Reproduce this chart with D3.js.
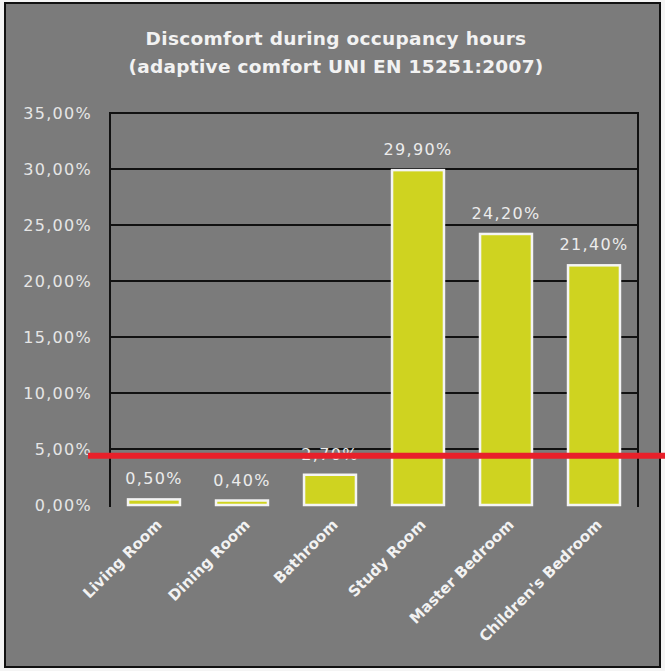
<!DOCTYPE html>
<html>
<head>
<meta charset="utf-8">
<script src="https://cdn.jsdelivr.net/npm/d3@7"></script>
<style>
  html, body { margin: 0; padding: 0; background: #f4f4f4; }
  svg { display: block; }
  text { font-family: "DejaVu Sans", sans-serif; }
</style>
</head>
<body>
<svg id="chart" width="665" height="671"></svg>
<script>
// Share of occupied hours outside the adaptive comfort band, per room
const rooms = ["Living Room", "Dining Room", "Bathroom", "Study Room", "Master Bedroom", "Children's Bedroom"];
const discomfort = [0.5, 0.4, 2.7, 29.9, 24.2, 21.4];
const yTicks = [0, 5, 10, 15, 20, 25, 30, 35];
const titleLines = ["Discomfort during occupancy hours", "(adaptive comfort UNI EN 15251:2007)"];
const thresholdValue = 4.4;

const fmt = v => d3.format(".2f")(v).replace(".", ",") + "%";

const svg = d3.select("#chart");

// panel background with dark frame
svg.append("rect")
  .attr("x", 5).attr("y", 3).attr("width", 655).attr("height", 664)
  .attr("fill", "#7b7b7b").attr("stroke", "#111").attr("stroke-width", 2);

const plot = { left: 110, right: 638, top: 113, bottom: 505 };

const x = d3.scaleBand().domain(rooms).range([plot.left, plot.right]).paddingInner(0.41).paddingOuter(0.205);
const y = d3.scaleLinear().domain([0, 35]).range([plot.bottom, plot.top]);

// title
svg.append("g").selectAll("text").data(titleLines).join("text")
  .attr("x", 336).attr("y", (d, i) => 45 + i * 28)
  .attr("text-anchor", "middle")
  .attr("fill", "#f2f2f2")
  .attr("font-weight", "bold")
  .attr("font-size", 18.5)
  .attr("letter-spacing", 0.3)
  .text(d => d);

// horizontal gridlines (no line at zero)
svg.append("g").selectAll("line").data(yTicks.filter(t => t > 0)).join("line")
  .attr("x1", plot.left).attr("x2", plot.right)
  .attr("y1", d => y(d)).attr("y2", d => y(d))
  .attr("stroke", "#111").attr("stroke-width", 2);

// vertical frame lines of the plot area
svg.append("g").selectAll("line").data([plot.left, plot.right]).join("line")
  .attr("x1", d => d).attr("x2", d => d)
  .attr("y1", y(35) - 1).attr("y2", plot.bottom + 2)
  .attr("stroke", "#111").attr("stroke-width", 2);

// y tick labels
const yAxis = d3.axisLeft(y).tickValues(yTicks).tickFormat(fmt).tickSize(0).tickPadding(18);
const ya = svg.append("g").attr("transform", `translate(${plot.left},0)`).call(yAxis);
ya.select(".domain").remove();
ya.selectAll("text")
  .attr("fill", "#e6e6e6").attr("font-size", 16).attr("letter-spacing", 1.3)
  .attr("font-family", "DejaVu Sans, sans-serif");

// bars
svg.append("g").selectAll("rect").data(discomfort).join("rect")
  .attr("x", (d, i) => x(rooms[i]))
  .attr("y", d => y(d))
  .attr("width", x.bandwidth())
  .attr("height", d => y(0) - y(d))
  .attr("fill", "#cfd320")
  .attr("stroke", "#f4f4f4").attr("stroke-width", 2.5);

// value labels
svg.append("g").selectAll("text").data(discomfort).join("text")
  .attr("x", (d, i) => x(rooms[i]) + x.bandwidth() / 2)
  .attr("y", d => y(d) - 15)
  .attr("text-anchor", "middle")
  .attr("fill", "#ececec")
  .attr("font-size", 16)
  .attr("letter-spacing", 1.3)
  .text(fmt);

// category labels, rotated
svg.append("g").selectAll("text").data(rooms).join("text")
  .attr("transform", d => `translate(${x(d) + x.bandwidth() / 2 + 5},${plot.bottom + 17}) rotate(-45)`)
  .attr("text-anchor", "end")
  .attr("dy", "0.35em")
  .attr("fill", "#f2f2f2")
  .attr("font-weight", "bold")
  .attr("font-size", 15)
  .text(d => d);

// threshold line
svg.append("line")
  .attr("x1", 88).attr("x2", 665)
  .attr("y1", y(thresholdValue)).attr("y2", y(thresholdValue))
  .attr("stroke", "#e8202a").attr("stroke-width", 6);
</script>
</body>
</html>
